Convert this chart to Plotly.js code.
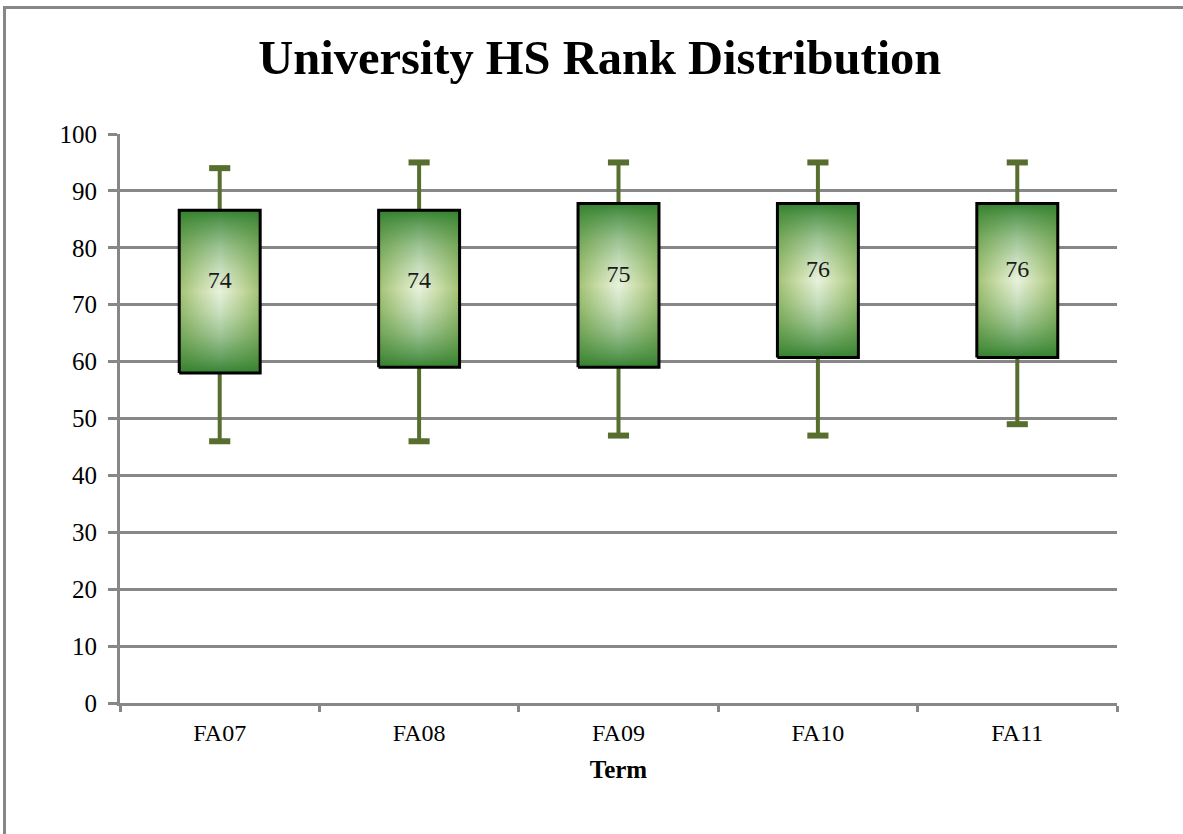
<!DOCTYPE html>
<html>
<head>
<meta charset="utf-8">
<script src="https://cdn.plot.ly/plotly-3.0.1.min.js"></script>
<style>
  html, body { margin: 0; padding: 0; background: #ffffff; }
  #chart { position: absolute; left: 0; top: 0; width: 1183px; height: 834px; }
  #frame { position: absolute; left: 3px; top: 6px; width: 1200px; height: 840px;
           border-left: 3px solid #878787; border-top: 3px solid #878787; pointer-events: none; }
</style>
</head>
<body>
<div id="chart"></div>
<div id="frame"></div>
<script>
// ---- data ----
const terms    = ["FA07", "FA08", "FA09", "FA10", "FA11"];
const lowWhisk = [46, 46, 47, 47, 49];
const q1       = [58, 59, 59, 60.7, 60.7];
const medians  = [74, 74, 75, 76, 76];
const q3       = [86.6, 86.6, 87.8, 87.8, 87.8];
const highWhisk= [94, 95, 95, 95, 95];
const yTicks   = [0, 10, 20, 30, 40, 50, 60, 70, 80, 90, 100];

// ---- styles ----
const FONT = "Liberation Serif, serif";
const GRID = "#878787";
const WHISK = "#586e2e";
const boxHalf = 0.203;
const capHalf = 0.053;

// horizontal base gradient (centre light, sides yellow-green)
const baseScale = [[0, "#a3c275"], [0.25, "#c9dca8"], [0.5, "#e8f2dc"], [0.75, "#c9dca8"], [1, "#a3c275"]];
// vertical darkening overlay (dark green towards top and bottom)
const dk = a => "rgba(45,125,42," + a + ")";
const overScale = [[0, dk(0.95)], [0.083, dk(0.72)], [0.222, dk(0.41)], [0.361, dk(0.17)], [0.5, dk(0)],
                   [0.639, dk(0.17)], [0.778, dk(0.41)], [0.917, dk(0.72)], [1, dk(0.95)]];

const idx = terms.map((_, i) => i);
const traces = [];

// whiskers
const wx = [], wy = [];
idx.forEach(i => {
  wx.push(i, i, null, i, i, null);
  wy.push(q3[i], highWhisk[i], null, q1[i], lowWhisk[i], null);
});
traces.push({ type: "scatter", mode: "lines", x: wx, y: wy,
  line: { color: WHISK, width: 4 }, hoverinfo: "skip", showlegend: false });

// caps
const cx = [], cy = [];
idx.forEach(i => {
  cx.push(i - capHalf, i + capHalf, null, i - capHalf, i + capHalf, null);
  cy.push(highWhisk[i], highWhisk[i], null, lowWhisk[i], lowWhisk[i], null);
});
traces.push({ type: "scatter", mode: "lines", x: cx, y: cy,
  line: { color: WHISK, width: 6 }, hoverinfo: "skip", showlegend: false });

// boxes: base fill + overlay fill + outline
idx.forEach(i => {
  const bx = [i - boxHalf, i + boxHalf, i + boxHalf, i - boxHalf, i - boxHalf];
  const by = [q1[i], q1[i], q3[i], q3[i], q1[i]];
  traces.push({ type: "scatter", mode: "lines", x: bx, y: by, fill: "toself",
    fillgradient: { type: "horizontal", colorscale: baseScale },
    line: { color: "rgba(0,0,0,0)", width: 0 }, hoverinfo: "skip", showlegend: false });
  traces.push({ type: "scatter", mode: "lines", x: bx, y: by, fill: "toself",
    fillgradient: { type: "vertical", colorscale: overScale },
    line: { color: "#000000", width: 3 }, hoverinfo: "skip", showlegend: false });
});

// median labels
traces.push({ type: "scatter", mode: "text", x: idx, y: medians,
  text: medians.map(String), textposition: "middle center",
  textfont: { family: FONT, size: 24, color: "#1a1a1a" },
  hoverinfo: "skip", showlegend: false });

const layout = {
  width: 1183, height: 834,
  margin: { l: 120, r: 66, t: 134, b: 131, pad: 0 },
  paper_bgcolor: "#ffffff", plot_bgcolor: "#ffffff",
  font: { family: FONT, color: "#000000", size: 22 },
  title: { text: "<b>University HS Rank Distribution</b>",
    font: { family: FONT, size: 48.5, color: "#000000" },
    x: 0.507, xanchor: "center", xref: "container",
    y: 0.932, yanchor: "middle", yref: "container" },
  xaxis: {
    range: [-0.5, 4.5], tickmode: "array", tickvals: idx, ticktext: terms,
    ticks: "outside", ticklen: 6, tickcolor: "rgba(0,0,0,0)",
    tickfont: { family: FONT, size: 24, color: "#000000" },
    showline: true, linecolor: GRID, linewidth: 3, showgrid: false, zeroline: false,
    minor: { tickmode: "linear", tick0: -0.5, dtick: 1, ticks: "outside", ticklen: 6,
      tickwidth: 3, tickcolor: GRID, showgrid: false },
    title: { text: "<b>Term</b>", font: { family: FONT, size: 25, color: "#000000" }, standoff: 16 },
    fixedrange: true
  },
  yaxis: {
    range: [0, 100], tickmode: "array", tickvals: yTicks,
    ticks: "outside", ticklen: 9, tickwidth: 3, tickcolor: GRID,
    tickfont: { family: FONT, size: 25, color: "#000000" },
    showline: true, linecolor: GRID, linewidth: 3,
    showgrid: true, gridcolor: GRID, gridwidth: 3, zeroline: false,
    ticklabelstandoff: 6,
    fixedrange: true
  },
  showlegend: false, hovermode: false
};

Plotly.newPlot("chart", traces, layout, { displayModeBar: false, staticPlot: true });
</script>
</body>
</html>
